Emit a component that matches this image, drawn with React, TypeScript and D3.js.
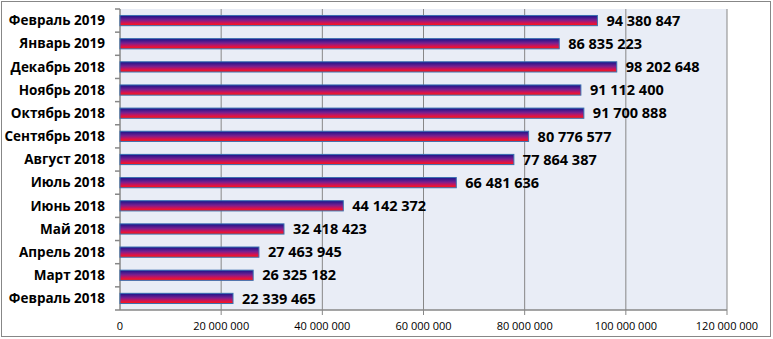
import React from "react";
import * as d3 from "d3";

const categories = [
  "Февраль 2019",
  "Январь 2019",
  "Декабрь 2018",
  "Ноябрь 2018",
  "Октябрь 2018",
  "Сентябрь 2018",
  "Август 2018",
  "Июль 2018",
  "Июнь 2018",
  "Май 2018",
  "Апрель 2018",
  "Март 2018",
  "Февраль 2018",
];
const values = [
  94380847, 86835223, 98202648, 91112400, 91700888, 80776577, 77864387,
  66481636, 44142372, 32418423, 27463945, 26325182, 22339465,
];
const xTicks = [0, 20000000, 40000000, 60000000, 80000000, 100000000, 120000000];

const W = 773;
const H = 339;
const M = { left: 120, right: 46, top: 9, bottom: 29 };

const fmt = (v: number) => d3.format(",")(v).replace(/,/g, " ");

export default function App() {
  const x = d3.scaleLinear().domain([0, 120000000]).range([M.left, W - M.right]);
  const y = d3
    .scaleBand<string>()
    .domain(categories)
    .range([M.top, H - M.bottom])
    .paddingInner(0.56)
    .paddingOuter(0.28);
  const step = y.step();
  const plotTop = M.top;
  const plotBottom = H - M.bottom;
  const font = "'Open Sans', Calibri, sans-serif";
  return (
    <svg
      width={W}
      height={H}
      style={{ position: "absolute", left: 0, top: 0, background: "#fff" }}
    >
      <defs>
        <linearGradient id="barGrad" x1="0" y1="0" x2="0" y2="1">
          <stop offset="0%" stopColor="#14148a" />
          <stop offset="45%" stopColor="#7a1f8f" />
          <stop offset="75%" stopColor="#d8124e" />
          <stop offset="100%" stopColor="#ff1a0a" />
        </linearGradient>
      </defs>
      <rect x={1.5} y={1.5} width={W - 4} height={H - 4} fill="#fff" stroke="#878787" />
      <rect
        x={M.left}
        y={plotTop}
        width={x(120000000) - M.left}
        height={plotBottom - plotTop}
        fill="#e9edf6"
      />
      {xTicks.map((t) => (
        <g key={t}>
          {t > 0 && (
            <line
              x1={x(t)}
              x2={x(t)}
              y1={plotTop}
              y2={plotBottom + 5}
              stroke="#878787"
              strokeWidth={1}
            />
          )}
          <text
            x={x(t)}
            y={plotBottom + 20}
            textAnchor="middle"
            fontFamily={font}
            fontSize={11}
            fill="#000"
          >
            {fmt(t)}
          </text>
        </g>
      ))}
      <line x1={M.left} x2={M.left} y1={plotTop} y2={plotBottom} stroke="#878787" strokeWidth={1.5} />
      <line x1={M.left} x2={x(120000000)} y1={plotBottom} y2={plotBottom} stroke="#878787" strokeWidth={1.5} />
      {d3.range(categories.length + 1).map((i) => (
        <line
          key={i}
          x1={M.left - 5}
          x2={M.left}
          y1={plotTop + i * step}
          y2={plotTop + i * step}
          stroke="#878787"
          strokeWidth={1.5}
        />
      ))}
      {categories.map((c, i) => {
        const by = y(c)!;
        const bh = y.bandwidth();
        return (
          <g key={c}>
            <rect
              x={x(0)}
              y={by}
              width={x(values[i]) - x(0)}
              height={bh}
              fill="url(#barGrad)"
              stroke="#3a6fb0"
              strokeWidth={1}
            />
            <text
              x={M.left - 15}
              y={by + bh / 2}
              dy="0.35em"
              textAnchor="end"
              fontFamily={font}
              fontWeight="bold"
              fontSize={13.5}
              fill="#000"
            >
              {c}
            </text>
            <text
              x={x(values[i]) + 9}
              y={by + bh / 2}
              dy="0.36em"
              fontFamily={font}
              fontWeight="bold"
              fontSize={14.5}
              fill="#000"
            >
              {fmt(values[i])}
            </text>
          </g>
        );
      })}
    </svg>
  );
}
